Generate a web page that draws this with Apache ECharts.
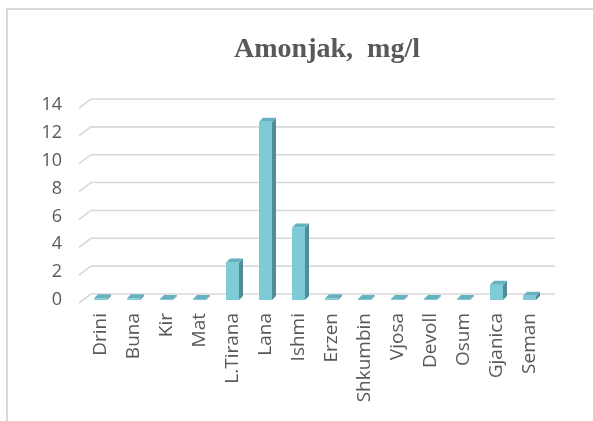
<!DOCTYPE html>
<html>
<head>
<meta charset="utf-8">
<script src="https://cdn.jsdelivr.net/npm/echarts@6/dist/echarts.min.js"></script>
<style>html,body{margin:0;padding:0;background:#fff;}#c{width:593px;height:421px;}</style>
</head>
<body>
<div id="c"></div>
<script>
const categories = ['Drini','Buna','Kir','Mat','L.Tirana','Lana','Ishmi','Erzen','Shkumbin','Vjosa','Devoll','Osum','Gjanica','Seman'];
const values = [0.12, 0.12, 0.08, 0.08, 2.7, 12.8, 5.2, 0.12, 0.08, 0.08, 0.08, 0.08, 1.1, 0.3];
const yTicks = [0, 2, 4, 6, 8, 10, 12, 14];
const titleText = 'Amonjak,  mg/l';

const chart = echarts.init(document.getElementById('c'), null, {renderer: 'canvas'});
const DX = 4, DY = 4, BW = 13;
chart.setOption({
  animation: false,
  backgroundColor: '#ffffff',
  title: {
    text: titleText,
    left: 322, top: 31, textAlign: 'center',
    textStyle: {fontFamily: 'Liberation Serif', fontWeight: 'bold', fontSize: 28, color: '#595959'}
  },
  graphic: [{
    type: 'rect', silent: true, z: -10,
    shape: {x: 7, y: 9, width: 800, height: 800},
    style: {fill: 'none', stroke: '#d9d9d9', lineWidth: 2}
  }],
  grid: {left: 84, right: 47, top: 105, bottom: 121},
  xAxis: {
    type: 'category', data: categories,
    axisLine: {show: false}, axisTick: {show: false},
    axisLabel: {rotate: 90, margin: 13, interval: 0, fontFamily: 'Open Sans', fontSize: 19, color: '#595959'}
  },
  yAxis: {
    type: 'value', min: 0, max: 14, interval: 2,
    axisLine: {show: false}, axisTick: {show: false}, splitLine: {show: false},
    axisLabel: {margin: 22, fontFamily: 'Open Sans', fontSize: 18, color: '#595959'}
  },
  series: [{
    type: 'custom', z: 1, silent: true,
    data: yTicks.map(t => [0, t]),
    encode: {x: 0, y: 1},
    renderItem: function (params, api) {
      const cs = params.coordSys;
      const y = api.coord([0, api.value(1)])[1];
      return {
        type: 'polyline',
        shape: {points: [[cs.x - 5, y + 3], [cs.x + 7, y - 6], [cs.x + cs.width + 9, y - 6]]},
        style: {stroke: '#d9d9d9', lineWidth: 1.6, fill: null}
      };
    }
  }, {
    type: 'custom', z: 5,
    data: values.map((v, i) => [i, v]),
    encode: {x: 0, y: 1},
    renderItem: function (params, api) {
      const p = api.coord([api.value(0), api.value(1)]);
      const b = api.coord([api.value(0), 0]);
      const x0 = p[0] - BW / 2;
      const top = p[1], bot = b[1];
      return {
        type: 'group',
        children: [{
          type: 'rect',
          shape: {x: x0, y: top, width: BW, height: bot - top},
          style: {fill: '#7FCAD7'}
        }, {
          type: 'polygon',
          shape: {points: [[x0 + BW, top], [x0 + BW + DX, top - DY], [x0 + BW + DX, bot - DY], [x0 + BW, bot]]},
          style: {fill: '#4D8E9A'}
        }, {
          type: 'polygon',
          shape: {points: [[x0, top], [x0 + DX, top - DY], [x0 + BW + DX, top - DY], [x0 + BW, top]]},
          style: {fill: '#67B2C0'}
        }]
      };
    }
  }]
});
</script>
</body>
</html>
